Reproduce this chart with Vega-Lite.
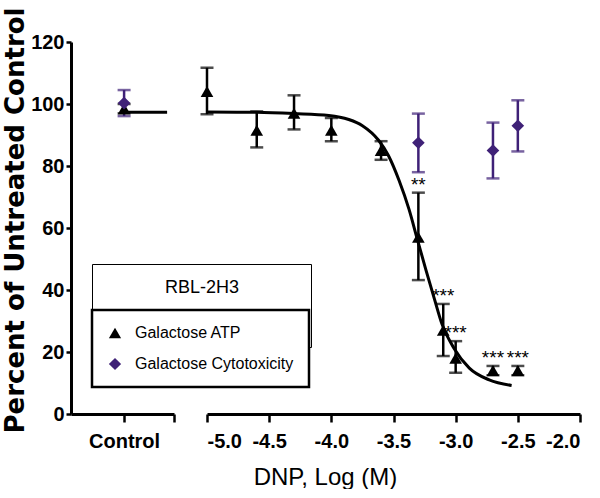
{
  "$schema": "https://vega.github.io/schema/vega-lite/v6.json",
  "background": "white",
  "padding": {"left": 1, "top": 6, "right": 5, "bottom": 0},
  "bounds": "flush",
  "spacing": 33,
  "config": {
    "view": {"stroke": null},
    "axis": {
      "domainColor": "black", "domainWidth": 3, "tickColor": "black", "tickWidth": 2.5,
      "labelColor": "black", "titleColor": "black", "grid": false,
      "labelFont": "Liberation Sans, Arial, sans-serif",
      "labelFontWeight": "bold"
    }
  },
  "datasets": {
    "points": [
      {"panel": "L", "x": 1, "series": "Galactose ATP", "series2": "Galactose ATP", "value": 98.5, "lo": 97, "hi": 100, "sig": ""},
      {"panel": "L", "x": 1, "series": "Galactose Cytotoxicity", "series2": "Galactose Cytotoxicity", "value": 100.3, "lo": 96.1, "hi": 104.5, "sig": ""},
      {"panel": "R", "x": -5.0, "series": "Galactose ATP", "series2": "Galactose ATP", "value": 104, "lo": 96.7, "hi": 111.7, "sig": ""},
      {"panel": "R", "x": -4.6, "series": "Galactose ATP", "series2": "Galactose ATP", "value": 91.5, "lo": 86, "hi": 97.6, "sig": ""},
      {"panel": "R", "x": -4.3, "series": "Galactose ATP", "series2": "Galactose ATP", "value": 97, "lo": 91.8, "hi": 102.8, "sig": ""},
      {"panel": "R", "x": -4.0, "series": "Galactose ATP", "series2": "Galactose ATP", "value": 91.5, "lo": 88, "hi": 95.5, "sig": ""},
      {"panel": "R", "x": -3.6, "series": "Galactose ATP", "series2": "Galactose ATP", "value": 85, "lo": 82, "hi": 88, "sig": ""},
      {"panel": "R", "x": -3.3, "series": "Galactose ATP", "series2": "Galactose ATP", "value": 57, "lo": 43.2, "hi": 71.4, "sig": "**"},
      {"panel": "R", "x": -3.1, "series": "Galactose ATP", "series2": "Galactose ATP", "value": 27, "lo": 18.7, "hi": 35.5, "sig": "***"},
      {"panel": "R", "x": -3.0, "series": "Galactose ATP", "series2": "Galactose ATP", "value": 18, "lo": 13.3, "hi": 23.5, "sig": "***"},
      {"panel": "R", "x": -2.7, "series": "Galactose ATP", "series2": "Galactose ATP", "value": 14, "lo": 12.5, "hi": 15.5, "sig": "***"},
      {"panel": "R", "x": -2.5, "series": "Galactose ATP", "series2": "Galactose ATP", "value": 14, "lo": 12.5, "hi": 15.5, "sig": "***"},
      {"panel": "R", "x": -3.3, "series": "Galactose Cytotoxicity", "series2": "Galactose Cytotoxicity", "value": 87.5, "lo": 78, "hi": 96.9, "sig": ""},
      {"panel": "R", "x": -2.7, "series": "Galactose Cytotoxicity", "series2": "Galactose Cytotoxicity", "value": 85, "lo": 76, "hi": 94, "sig": ""},
      {"panel": "R", "x": -2.5, "series": "Galactose Cytotoxicity", "series2": "Galactose Cytotoxicity", "value": 93, "lo": 84.7, "hi": 101.2, "sig": ""}
    ],
    "curve": [
      {"panel": "L", "x": 1, "value": 97.3},
      {"panel": "L", "x": 1.81, "value": 97.3},
      {"panel": "R", "x": -5.0, "value": 97.4},
      {"panel": "R", "x": -4.6, "value": 97.3},
      {"panel": "R", "x": -4.3, "value": 96.9},
      {"panel": "R", "x": -4.02, "value": 96.3},
      {"panel": "R", "x": -3.86, "value": 95.0},
      {"panel": "R", "x": -3.75, "value": 93.0},
      {"panel": "R", "x": -3.62, "value": 88.3},
      {"panel": "R", "x": -3.54, "value": 83.3},
      {"panel": "R", "x": -3.455, "value": 75.3},
      {"panel": "R", "x": -3.375, "value": 66.0},
      {"panel": "R", "x": -3.31, "value": 56.6},
      {"panel": "R", "x": -3.24, "value": 46.6},
      {"panel": "R", "x": -3.17, "value": 37.0},
      {"panel": "R", "x": -3.11, "value": 29.0},
      {"panel": "R", "x": -3.01, "value": 21.0},
      {"panel": "R", "x": -2.89, "value": 14.8},
      {"panel": "R", "x": -2.73, "value": 11.0},
      {"panel": "R", "x": -2.55, "value": 9.2}
    ]
  },
  "hconcat": [
    {
      "width": 103,
      "height": 372,
      "layer": [
        {
          "data": {"name": "curve"},
          "transform": [{"filter": "datum.panel == 'L'"}],
          "mark": {"type": "line", "color": "black", "strokeWidth": 3},
          "encoding": {
            "x": {"field": "x", "type": "quantitative", "scale": {"domain": [0, 1.94], "nice": false},
              "axis": {"values": [1, 1.94], "labelExpr": "datum.value == 1 ? 'Control' : ''", "tickSize": 8, "labelFontSize": 20, "labelPadding": 9, "title": null}},
            "y": {"field": "value", "type": "quantitative", "scale": {"domain": [0, 120], "nice": false},
              "axis": {"values": [0, 10, 20, 30, 40, 50, 60, 70, 80, 90, 100, 110, 120], "tickSize": 5, "labelPadding": 2, "labelFontSize": 20,
                "title": "Percent of Untreated Control", "titleFont": "DejaVu Sans", "titleFontWeight": "bold", "titleFontSize": 26,
                "titleX": -48, "titleY": 178, "titleBaseline": "alphabetic", "titleAngle": -90, "titleAlign": "center"}}
          }
        },
        {
          "data": {"name": "points"},
          "transform": [{"filter": "datum.panel == 'L'"}],
          "mark": {"type": "rule", "strokeWidth": 2.5},
          "encoding": {
            "x": {"field": "x", "type": "quantitative"},
            "y": {"field": "lo", "type": "quantitative"},
            "y2": {"field": "hi"},
            "color": {"condition": {"test": "datum.series == 'Galactose ATP'", "value": "#000000"}, "value": "#3f2177"}
          }
        },
        {
          "data": {"name": "points"},
          "transform": [{"filter": "datum.panel == 'L'"}],
          "mark": {"type": "tick", "orient": "horizontal", "size": 13, "thickness": 2.5},
          "encoding": {
            "x": {"field": "x", "type": "quantitative"},
            "y": {"field": "lo", "type": "quantitative"},
            "color": {"condition": {"test": "datum.series == 'Galactose ATP'", "value": "#000000"}, "value": "#3f2177"}
          }
        },
        {
          "data": {"name": "points"},
          "transform": [{"filter": "datum.panel == 'L'"}],
          "mark": {"type": "tick", "orient": "horizontal", "size": 13, "thickness": 2.5},
          "encoding": {
            "x": {"field": "x", "type": "quantitative"},
            "y": {"field": "hi", "type": "quantitative"},
            "color": {"condition": {"test": "datum.series == 'Galactose ATP'", "value": "#000000"}, "value": "#3f2177"}
          }
        },
        {
          "data": {"name": "points"},
          "transform": [{"filter": "datum.panel == 'L'"}],
          "mark": {"type": "point", "filled": true, "size": 160, "strokeWidth": 0},
          "encoding": {
            "x": {"field": "x", "type": "quantitative"},
            "y": {"field": "value", "type": "quantitative"},
            "color": {"field": "series", "type": "nominal", "scale": {"domain": ["Galactose ATP", "Galactose Cytotoxicity"], "range": ["#000000", "#3f2177"]},
              "legend": {"title": null, "orient": "none", "legendX": 21, "legendY": 268, "zindex": 2,
                "padding": 15, "rowPadding": 15, "strokeColor": "black", "fillColor": "white",
                "labelFont": "Liberation Sans, Arial, sans-serif", "labelFontSize": 16, "labelColor": "black", "labelLimit": 300,
                "symbolSize": 150, "labelOffset": 12, "symbolStrokeWidth": 0, "symbolOpacity": 1,
                "encode": {"legend": {"update": {"strokeWidth": {"value": 2.5}}}}}},
            "shape": {"field": "series", "type": "nominal", "scale": {"domain": ["Galactose ATP", "Galactose Cytotoxicity"], "range": ["triangle-up", "diamond"]},
              "legend": {"title": null, "orient": "none", "legendX": 21, "legendY": 268, "zindex": 2,
                "padding": 15, "rowPadding": 15, "strokeColor": "black", "fillColor": "white",
                "labelFont": "Liberation Sans, Arial, sans-serif", "labelFontSize": 16, "labelColor": "black", "labelLimit": 300,
                "symbolSize": 150, "labelOffset": 12, "symbolStrokeWidth": 0, "symbolOpacity": 1,
                "encode": {"legend": {"update": {"strokeWidth": {"value": 2.5}}}}}},
            "opacity": {"field": "series2", "type": "ordinal", "scale": {"range": [1, 1]},
              "legend": {"title": "RBL-2H3", "orient": "none", "legendX": 21, "legendY": 222, "zindex": 1,
                "direction": "horizontal", "columns": 2, "columnPadding": 163,
                "symbolOpacity": 0, "labelOpacity": 0, "labelExpr": "''",
                "padding": 15, "strokeColor": "black", "fillColor": "white",
                "titleAnchor": "middle", "titleFont": "Liberation Sans, Arial, sans-serif",
                "titleFontSize": 18, "titleFontWeight": "normal", "titleColor": "black", "titlePadding": 22, "titleLimit": 300,
                "labelFont": "Liberation Sans, Arial, sans-serif", "labelFontSize": 12, "labelLimit": 300,
                "symbolSize": 150, "labelOffset": 0, "symbolStrokeWidth": 0,
                "encode": {"legend": {"update": {"strokeWidth": {"value": 2.5}}}}}}
          }
        }
      ]
    },
    {
      "width": 373,
      "height": 372,
      "layer": [
        {
          "data": {"name": "curve"},
          "transform": [{"filter": "datum.panel == 'R'"}],
          "mark": {"type": "line", "color": "black", "strokeWidth": 3, "interpolate": "monotone"},
          "encoding": {
            "x": {"field": "x", "type": "quantitative", "scale": {"domain": [-5, -2], "nice": false},
              "axis": {"values": [-5, -4.5, -4, -3.5, -3, -2.5, -2], "labelExpr": "replace(format(datum.value, '.1f'), '\u2212', '-')", "tickSize": 8, "labelFontSize": 20, "labelPadding": 9,
                "title": "DNP, Log (M)", "titleFont": "Liberation Sans, Arial, sans-serif", "titleFontSize": 24, "titleFontWeight": "normal",
                "titleX": 118, "titleY": 70, "titleBaseline": "alphabetic", "titleAlign": "center"}},
            "y": {"field": "value", "type": "quantitative", "scale": {"domain": [0, 120], "nice": false}, "axis": null}
          }
        },
        {
          "data": {"name": "points"},
          "transform": [{"filter": "datum.panel == 'R'"}],
          "mark": {"type": "rule", "strokeWidth": 2.5},
          "encoding": {
            "x": {"field": "x", "type": "quantitative"},
            "y": {"field": "lo", "type": "quantitative"},
            "y2": {"field": "hi"},
            "color": {"condition": {"test": "datum.series == 'Galactose ATP'", "value": "#000000"}, "value": "#3f2177"}
          }
        },
        {
          "data": {"name": "points"},
          "transform": [{"filter": "datum.panel == 'R'"}],
          "mark": {"type": "tick", "orient": "horizontal", "size": 13, "thickness": 2.5},
          "encoding": {
            "x": {"field": "x", "type": "quantitative"},
            "y": {"field": "lo", "type": "quantitative"},
            "color": {"condition": {"test": "datum.series == 'Galactose ATP'", "value": "#000000"}, "value": "#3f2177"}
          }
        },
        {
          "data": {"name": "points"},
          "transform": [{"filter": "datum.panel == 'R'"}],
          "mark": {"type": "tick", "orient": "horizontal", "size": 13, "thickness": 2.5},
          "encoding": {
            "x": {"field": "x", "type": "quantitative"},
            "y": {"field": "hi", "type": "quantitative"},
            "color": {"condition": {"test": "datum.series == 'Galactose ATP'", "value": "#000000"}, "value": "#3f2177"}
          }
        },
        {
          "data": {"name": "points"},
          "transform": [{"filter": "datum.panel == 'R'"}],
          "mark": {"type": "point", "filled": true, "size": 160, "strokeWidth": 0},
          "encoding": {
            "x": {"field": "x", "type": "quantitative"},
            "y": {"field": "value", "type": "quantitative"},
            "color": {"field": "series", "type": "nominal", "scale": {"domain": ["Galactose ATP", "Galactose Cytotoxicity"], "range": ["#000000", "#3f2177"]},
              "legend": {"title": null, "orient": "none", "legendX": 21, "legendY": 268, "zindex": 2,
                "padding": 15, "rowPadding": 15, "strokeColor": "black", "fillColor": "white",
                "labelFont": "Liberation Sans, Arial, sans-serif", "labelFontSize": 16, "labelColor": "black", "labelLimit": 300,
                "symbolSize": 150, "labelOffset": 12, "symbolStrokeWidth": 0, "symbolOpacity": 1,
                "encode": {"legend": {"update": {"strokeWidth": {"value": 2.5}}}}}},
            "shape": {"field": "series", "type": "nominal", "scale": {"domain": ["Galactose ATP", "Galactose Cytotoxicity"], "range": ["triangle-up", "diamond"]},
              "legend": {"title": null, "orient": "none", "legendX": 21, "legendY": 268, "zindex": 2,
                "padding": 15, "rowPadding": 15, "strokeColor": "black", "fillColor": "white",
                "labelFont": "Liberation Sans, Arial, sans-serif", "labelFontSize": 16, "labelColor": "black", "labelLimit": 300,
                "symbolSize": 150, "labelOffset": 12, "symbolStrokeWidth": 0, "symbolOpacity": 1,
                "encode": {"legend": {"update": {"strokeWidth": {"value": 2.5}}}}}},
            "opacity": {"field": "series2", "type": "ordinal", "scale": {"range": [1, 1]},
              "legend": {"title": "RBL-2H3", "orient": "none", "legendX": 21, "legendY": 222, "zindex": 1,
                "direction": "horizontal", "columns": 2, "columnPadding": 163,
                "symbolOpacity": 0, "labelOpacity": 0, "labelExpr": "''",
                "padding": 15, "strokeColor": "black", "fillColor": "white",
                "titleAnchor": "middle", "titleFont": "Liberation Sans, Arial, sans-serif",
                "titleFontSize": 18, "titleFontWeight": "normal", "titleColor": "black", "titlePadding": 22, "titleLimit": 300,
                "labelFont": "Liberation Sans, Arial, sans-serif", "labelFontSize": 12, "labelLimit": 300,
                "symbolSize": 150, "labelOffset": 0, "symbolStrokeWidth": 0,
                "encode": {"legend": {"update": {"strokeWidth": {"value": 2.5}}}}}}
          }
        },
        {
          "data": {"name": "points"},
          "transform": [{"filter": "datum.panel == 'R' && datum.sig != ''"}],
          "mark": {"type": "text", "baseline": "middle", "align": "center", "dy": -8, "fontSize": 19, "font": "Liberation Sans, Arial, sans-serif", "color": "black"},
          "encoding": {
            "x": {"field": "x", "type": "quantitative"},
            "y": {"field": "hi", "type": "quantitative"},
            "text": {"field": "sig"}
          }
        }
      ]
    }
  ]
}
